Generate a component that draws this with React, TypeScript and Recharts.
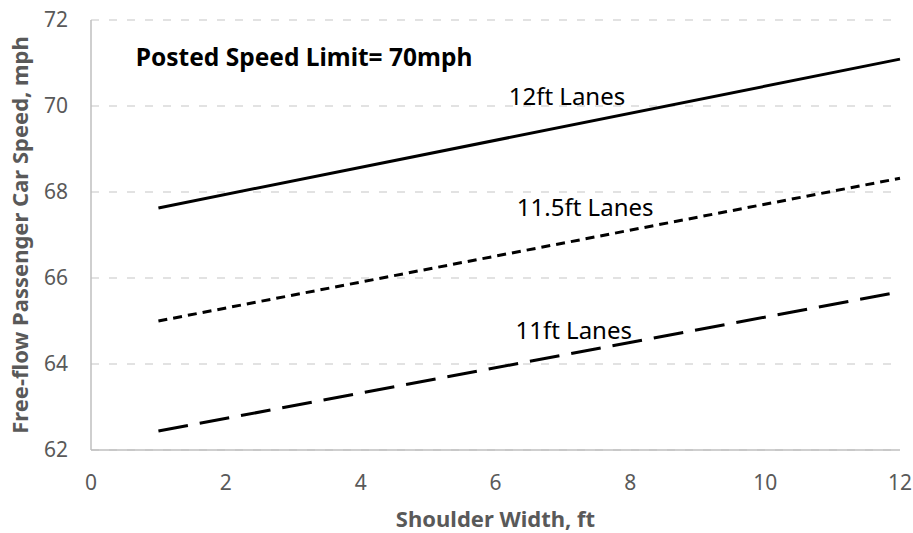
import { LineChart, Line, XAxis, YAxis, CartesianGrid, ReferenceDot } from 'recharts'

// shoulder width (ft) at the two ends of each line
const shoulderWidth = [1, 12]
// free-flow speed (mph) for each lane width
const lanes12 = [67.63, 71.09]
const lanes115 = [65.0, 68.32]
const lanes11 = [62.44, 65.68]

const xTicks = [0, 2, 4, 6, 8, 10, 12]
const yTicks = [62, 64, 66, 68, 70, 72]

// annotations: [x, y, text]
const notes: [number, number, string][] = [
  [7.06, 70.21, '12ft Lanes'],
  [7.33, 67.65, '11.5ft Lanes'],
  [7.16, 64.78, '11ft Lanes'],
]
const headline: [number, number, string] = [3.16, 71.13, 'Posted Speed Limit= 70mph']

const FONT = '"Noto Sans", sans-serif'
const GREY = '#595959'

const data = shoulderWidth.map((w, i) => ({
  w,
  l12: lanes12[i],
  l115: lanes115[i],
  l11: lanes11[i],
}))

const yTitle = (p: any) => {
  const vb = p.viewBox
  const x = vb.x + 28
  const y = vb.y + vb.height / 2
  return (
    <text x={x} y={y} transform={`rotate(-90, ${x}, ${y})`} textAnchor="middle"
      fontFamily={FONT} fontSize={22} fontWeight={700} fill={GREY}>
      Free-flow Passenger Car Speed, mph
    </text>
  )
}

const xTitle = (p: any) => {
  const vb = p.viewBox
  return (
    <text x={vb.x + vb.width / 2} y={527} textAnchor="middle"
      fontFamily={FONT} fontSize={22} fontWeight={700} fill={GREY}>
      Shoulder Width, ft
    </text>
  )
}

export default function App() {
  return (
    <div style={{ position: 'absolute', left: 0, top: 0, background: '#fff' }}>
      <LineChart width={913} height={533} data={data}
        margin={{ top: 20, right: 13, bottom: 0, left: 0 }}>
        <CartesianGrid vertical={false} stroke="#d9d9d9" strokeDasharray="8 10" strokeWidth={1.3} />
        <XAxis dataKey="w" type="number" domain={[0, 12]} ticks={xTicks} height={83}
          tickLine={false} tickSize={0} tickMargin={25}
          axisLine={{ stroke: '#bfbfbf', strokeWidth: 1.5 }}
          tick={{ fontFamily: FONT, fontSize: 21, fill: GREY }}
          label={{ content: xTitle }} />
        <YAxis type="number" domain={[62, 72]} ticks={yTicks} width={91}
          tickLine={false} tickSize={0} tickMargin={23}
          axisLine={{ stroke: '#bfbfbf', strokeWidth: 1.5 }}
          tick={{ fontFamily: FONT, fontSize: 21, fill: GREY }}
          label={{ content: yTitle }} />
        <Line dataKey="l12" stroke="#000" strokeWidth={3} dot={false} isAnimationActive={false} />
        <Line dataKey="l115" stroke="#000" strokeWidth={3} strokeDasharray="9 6" dot={false} isAnimationActive={false} />
        <Line dataKey="l11" stroke="#000" strokeWidth={3} strokeDasharray="30 12" dot={false} isAnimationActive={false} />
        {notes.map(([x, y, t]) => (
          <ReferenceDot key={t} x={x} y={y} r={0} fill="none" stroke="none"
            label={{ value: t, position: 'center', fontFamily: FONT, fontSize: 24, fill: '#000' }} />
        ))}
        <ReferenceDot x={headline[0]} y={headline[1]} r={0} fill="none" stroke="none"
          label={{ value: headline[2], position: 'center', fontFamily: FONT, fontSize: 24.5, fontWeight: 700, fill: '#000' }} />
      </LineChart>
    </div>
  )
}
